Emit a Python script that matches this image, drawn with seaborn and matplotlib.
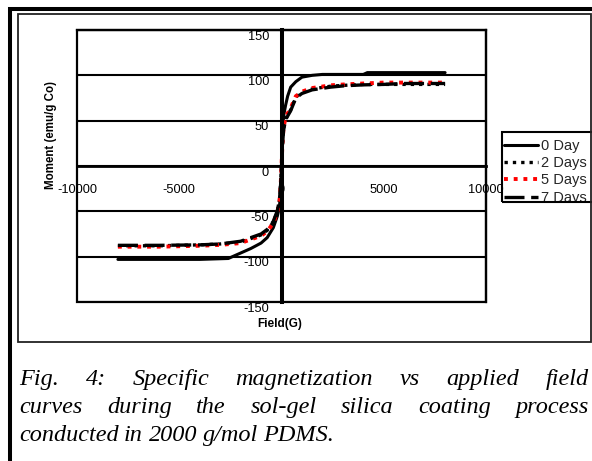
import pandas as pd
import seaborn as sns
import matplotlib.pyplot as plt
import matplotlib.transforms as mtransforms
from matplotlib.patches import Rectangle
from matplotlib.lines import Line2D

# series shown in the legend
series_names = ['0 Day', '2 Days', '5 Days', '7 Days']

# field (G) and moment (emu/g Co)
field_0day = [-8000, -6000, -4000, -2600, -2000, -1500, -1000, -700, -400, -200, -100, -50, 0,
              50, 100, 200, 300, 450, 700, 1000, 1500, 2000, 3000, 4000, 4200, 6000, 8000]
moment_0day = [-103, -103, -103, -102, -96, -91, -85, -79, -68, -55, -45, -30, 0,
               35, 55, 67, 77, 87, 93, 98, 100, 101, 101, 101, 103, 103, 103]

field_days = [-8000, -6000, -4000, -3000, -2000, -1500, -1000, -700, -400, -200, -100, -50, 0,
              50, 100, 200, 450, 700, 1000, 1500, 2400, 3100, 4000, 5000, 6000, 8000]
moment_2days = [-88, -88, -87, -86, -84, -80, -76, -71, -62, -50, -38, -25, 0,
                25, 40, 52, 62, 76, 81, 85, 88, 89, 90, 90, 90, 90]
moment_5days = [-89, -89, -88, -87, -85, -81, -77, -72, -63, -51, -39, -26, 0,
                26, 42, 54, 64, 77, 82, 86, 89, 90, 91, 92, 92, 92]
moment_7days = [-87.5, -87.5, -87, -86, -83, -79, -75, -70, -61, -49, -37, -24, 0,
                24, 39, 51, 61, 75, 80, 84, 87, 88.5, 89.5, 90, 91, 91]

x_ticks = [-10000, -5000, 0, 5000, 10000]
y_ticks = [-150, -100, -50, 0, 50, 100, 150]

caption_lines = ["Fig. 4: Specific magnetization vs applied field",
                 "curves during the sol-gel silica coating process",
                 "conducted in 2000 g/mol PDMS."]

frames = []
for name, fld, mom in [('0 Day', field_0day, moment_0day),
                       ('2 Days', field_days, moment_2days),
                       ('5 Days', field_days, moment_5days),
                       ('7 Days', field_days, moment_7days)]:
    frames.append(pd.DataFrame({'field': fld, 'moment': mom, 'series': name}))
df = pd.concat(frames, ignore_index=True)

W, H = 592, 461


def fx(px):
    return px / W


def fy(py):
    return 1 - py / H


sns.set_theme(style='white')
plt.rcParams['font.family'] = ['Liberation Sans', 'DejaVu Sans']
plt.rcParams['axes.unicode_minus'] = False

fig = plt.figure(figsize=(5.92, 4.61), dpi=100)
ax = fig.add_axes([fx(77), fy(302), (486 - 77) / W, (302 - 30) / H])

styles = {
    '0 Day': dict(color='black', linestyle='-', linewidth=2.2),
    '2 Days': dict(color='black', linestyle=(0, (1, 1.5)), linewidth=2.4),
    '5 Days': dict(color='red', linestyle=(0, (1, 1.5)), linewidth=2.8),
    '7 Days': dict(color='black', linestyle=(0, (6, 2)), linewidth=2.4),
}

for name in series_names:
    sub = df[df['series'] == name]
    sns.lineplot(data=sub, x='field', y='moment', ax=ax, sort=False, estimator=None,
                 legend=False, **styles[name])

ax.set_xlim(-10000, 10000)
ax.set_ylim(-150, 150)
ax.set_xticks(x_ticks)
ax.set_yticks(y_ticks)
ax.set_xticklabels([str(v) for v in x_ticks])
ax.set_yticklabels([str(v) for v in y_ticks])

# axes through the origin
ax.spines['left'].set_position(('data', 0))
ax.spines['bottom'].set_position(('data', 0))
ax.spines['left'].set_linewidth(2.9)
ax.spines['bottom'].set_linewidth(2.0)
for s in ['top', 'right']:
    ax.spines[s].set_linewidth(1.6)
for s in ax.spines.values():
    s.set_color('black')
ax.add_patch(Rectangle((0, 0), 1, 1, transform=ax.transAxes, fill=False,
                       lw=1.6, ec='black', clip_on=False))

ax.yaxis.grid(True, color='black', linewidth=1.5)
ax.xaxis.grid(False)
ax.tick_params(axis='y', length=0, pad=9, labelsize=9.2, colors='black')
ax.tick_params(axis='x', length=2, width=0.8, direction='out', pad=11, labelsize=9.2, colors='black')

shift = mtransforms.ScaledTranslation(0, -5 / 100, fig.dpi_scale_trans)
for tick in ax.yaxis.get_major_ticks():
    tick.label1.set_transform(tick.label1.get_transform() + shift)

ax.set_xlabel('Field(G)', fontsize=8.5, fontweight='bold', color='black')
ax.set_ylabel('Moment (emu/g Co)', fontsize=8.3, fontweight='bold', color='black')
ax.xaxis.set_label_coords((280 - 77) / 409, (302 - 318) / 272)
ax.yaxis.set_label_coords((57 - 77) / 409, (302 - 135) / 272)

# legend, clipped by its box like in the original
handles = [Line2D([], [], **styles[n]) for n in series_names]
leg = ax.legend(handles, series_names, loc='upper left', bbox_to_anchor=(fx(504), fy(139)),
                bbox_transform=fig.transFigure, frameon=False, fontsize=10.5,
                handlelength=2.3, handletextpad=0.25, labelspacing=0.22,
                borderaxespad=0, borderpad=0)
box = Rectangle((fx(502), fy(202)), fx(620) - fx(502), (202 - 132) / H,
                transform=fig.transFigure, fill=False, lw=1.5, ec='black')
fig.add_artist(box)
for t in leg.get_texts():
    t.set_clip_path(box)
for h in leg.legend_handles:
    h.set_clip_path(box)

# outer frames
fig.add_artist(Rectangle((fx(9.5), -0.2), 2, fy(9) + 0.2, transform=fig.transFigure,
                         fill=False, lw=2.9, ec='black'))
fig.add_artist(Rectangle((fx(18), fy(342)), fx(590.5) - fx(18), (342 - 14.5) / H,
                         transform=fig.transFigure, fill=False, lw=1.3, ec='#222222'))

# caption, justified like the paper
renderer = fig.canvas.get_renderer()


def put_line(line, y_px, justify):
    words = line.split(' ')
    texts = [fig.text(fx(19), fy(y_px), w, fontsize=17.5, family='Liberation Serif',
                      style='italic', va='baseline', color='black') for w in words]
    widths = [t.get_window_extent(renderer).width for t in texts]
    gap = (589 - 19 - sum(widths)) / (len(words) - 1) if justify else 5.5
    x = 19
    for t, w in zip(texts, widths):
        t.set_x(fx(x))
        x += w + gap


put_line(caption_lines[0], 385, True)
put_line(caption_lines[1], 413, True)
put_line(caption_lines[2], 441, False)

fig.savefig('out.png', dpi=100, facecolor='white')
